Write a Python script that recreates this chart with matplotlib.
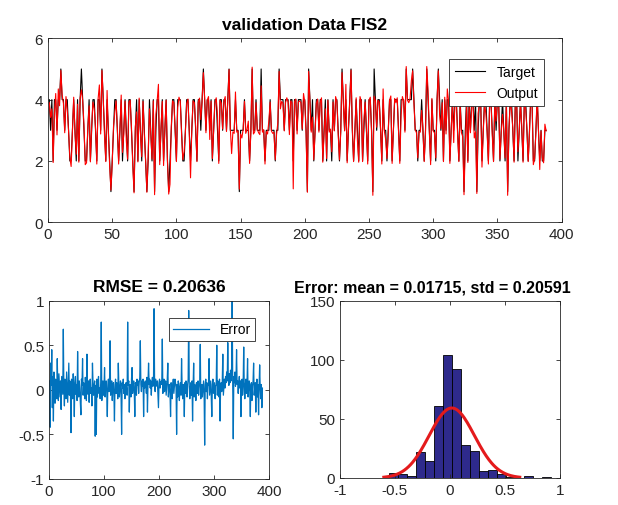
import matplotlib.pyplot as plt
import numpy as np

plt.rcParams["font.family"] = ["Liberation Sans", "DejaVu Sans"]

# target class values, one per validation sample
target = [
    4, 3, 4, 2, 4, 4, 3, 4, 4, 5,
    4, 4, 3, 4, 4, 3, 2, 2, 3, 4,
    3, 2, 4, 2, 4, 5, 4, 3, 2, 2,
    3, 4, 2, 3, 4, 4, 3, 2, 4, 4,
    3, 5, 4, 3, 2, 4, 3, 2, 1, 2,
    3, 4, 4, 3, 2, 3, 4, 2, 3, 4,
    3, 2, 4, 4, 3, 2, 1, 3, 4, 2,
    4, 3, 2, 4, 3, 2, 1, 2, 4, 3,
    2, 4, 1, 3, 4, 4, 2, 3, 4, 2,
    3, 4, 2, 1, 2, 3, 4, 4, 3, 2,
    4, 4, 4, 3, 2, 2, 3, 4, 4, 3,
    2, 3, 4, 4, 3, 2, 4, 4, 3, 4,
    5, 4, 3, 4, 4, 3, 4, 2, 3, 4,
    4, 3, 2, 4, 4, 3, 4, 4, 3, 4,
    5, 3, 3, 3, 3, 4, 3, 3, 1, 3,
    3, 3, 4, 3, 3, 3, 2, 3, 5, 3,
    3, 4, 3, 3, 3, 5, 3, 3, 2, 3,
    3, 3, 4, 3, 3, 3, 2, 3, 3, 5,
    4, 4, 4, 3, 4, 4, 4, 3, 4, 4,
    2, 4, 4, 3, 4, 4, 4, 3, 4, 4,
    3, 1, 5, 4, 3, 4, 2, 3, 4, 4,
    3, 4, 4, 2, 3, 4, 2, 4, 3, 3,
    2, 4, 3, 4, 4, 3, 2, 3, 5, 4,
    3, 4, 2, 3, 4, 5, 3, 2, 3, 4,
    3, 2, 4, 4, 2, 3, 4, 3, 2, 4,
    4, 3, 1, 5, 4, 3, 4, 4, 3, 2,
    4, 3, 3, 2, 3, 4, 4, 2, 3, 4,
    4, 4, 3, 2, 4, 4, 4, 3, 5, 4,
    4, 4, 4, 5, 4, 3, 3, 2, 3, 3,
    4, 3, 2, 3, 5, 4, 3, 2, 4, 3,
    3, 2, 4, 5, 4, 3, 4, 2, 4, 3,
    4, 4, 2, 3, 4, 3, 4, 4, 3, 2,
    4, 3, 3, 1, 3, 4, 2, 4, 3, 4,
    4, 3, 4, 1, 3, 4, 4, 2, 3, 4,
    4, 3, 2, 4, 4, 3, 2, 4, 3, 4,
    4, 2, 3, 4, 3, 2, 4, 1, 3, 4,
    4, 3, 2, 4, 4, 2, 3, 4, 3, 2,
    4, 4, 3, 2, 3, 4, 4, 2, 2, 3,
    4, 3, 2, 3, 2, 2, 3, 3,
]

# error = target - output
error = [
    0.10, -0.42, 0.30, 0.05, 0.45, -0.20, 0.15, -0.35, 0.20, 0.05,
    -0.15, 0.12, 0.08, -0.10, 0.35, 0.02, -0.12, 0.18, 0.05, -0.08,
    0.10, -0.22, 0.15, 0.04, -0.05, 0.68, 0.02, -0.18, 0.12, 0.06,
    -0.10, 0.20, 0.03, -0.14, 0.08, 0.30, -0.06, 0.10, -0.02, -0.48,
    0.12, 0.05, -0.10, 0.18, 0.02, -0.30, 0.08, 0.15, -0.05, 0.06,
    -0.12, 0.43, 0.04, -0.08, 0.10, 0.02, -0.15, -0.28, 0.12, 0.05,
    0.35, -0.06, 0.08, 0.02, -0.10, 0.14, 0.04, -0.12, 0.40, 0.03,
    -0.05, 0.10, -0.14, 0.06, 0.12, -0.04, 0.02, -0.18, 0.30, 0.08,
    -0.06, 0.04, 0.10, -0.52, 0.05, -0.50, 0.12, -0.08, 0.06, 0.15,
    -0.04, 0.02, -0.10, 0.08, 0.76, -0.12, 0.04, 0.10, -0.06, 0.02,
    0.25, -0.08, 0.05, 0.10, -0.04, -0.30, 0.06, 0.12, -0.02, 0.08,
    0.55, -0.06, 0.04, 0.10, -0.12, 0.02, 0.08, -0.05, -0.35, 0.06,
    0.12, -0.04, 0.08, 0.02, -0.10, 0.30, 0.05, -0.08, 0.04, 0.10,
    -0.06, -0.50, 0.08, 0.02, 0.12, -0.04, 0.06, -0.10, 0.04, 0.08,
    0.02, -0.06, 0.76, 0.05, 0.10, -0.25, 0.06, 0.02, -0.08, 0.12,
    0.25, -0.04, 0.06, 0.10, -0.02, -0.30, 0.08, 0.04, -0.06, 0.12,
    0.05, 0.10, -0.04, 0.08, 0.14, 0.55, 0.06, -0.02, 0.10, 0.04,
    0.12, -0.30, 0.08, 0.02, 0.10, 0.06, -0.04, 0.14, -0.25, 0.08,
    0.30, 0.06, 0.12, 0.02, 0.10, -0.06, 0.08, 0.14, 0.04, 0.10,
    0.91, 0.06, -0.02, 0.12, 0.08, 0.04, 0.10, -0.04, -0.20, 0.08,
    0.12, 0.02, 0.08, 0.10, 0.06, 0.57, -0.04, 0.08, 0.12, -0.02,
    0.06, 0.10, -0.06, 0.04, 0.12, 0.30, -0.08, 0.02, 0.06, -0.04,
    -0.30, 0.08, 0.02, -0.10, 0.06, 0.12, -0.04, 0.04, 0.12, 0.08,
    0.02, -0.50, 0.06, -0.08, 0.10, 0.04, -0.12, 0.02, 0.08, -0.06,
    0.35, 0.04, -0.10, 0.06, 0.02, -0.30, 0.08, -0.04, 0.10, 0.02,
    -0.08, 0.06, 0.12, 0.89, 0.04, -0.10, 0.02, 0.08, -0.06, 0.10,
    -0.35, 0.04, 0.30, -0.08, 0.06, 0.02, -0.12, 0.08, 0.04, -0.04,
    0.10, -0.06, 0.02, 0.08, 0.51, -0.10, 0.04, 0.06, -0.08, 0.02,
    0.10, -0.04, -0.62, 0.06, 0.12, -0.02, 0.08, -0.10, 0.04, 0.06,
    0.35, -0.06, 0.02, 0.10, -0.08, -0.30, 0.06, 0.12, -0.04, 0.02,
    0.08, -0.10, 0.04, 0.06, 0.50, -0.06, 0.10, 0.02, -0.08, 0.12,
    -0.35, 0.04, 0.08, -0.02, 0.10, 0.40, -0.06, 0.04, 0.12, 0.02,
    0.15, 0.08, 0.20, 0.10, 0.53, 0.12, 0.05, 0.18, 0.08, 0.22,
    0.10, 0.25, 1.05, 0.06, -0.55, 0.15, 0.08, 0.20, 0.04, 0.12,
    0.45, 0.06, 0.10, -0.04, 0.08, 0.15, 0.02, 0.10, -0.30, 0.06,
    0.12, -0.06, 0.08, 0.48, 0.02, -0.10, 0.06, 0.12, -0.04, 0.08,
    0.35, -0.08, 0.04, 0.10, -0.02, -0.30, 0.06, 0.08, -0.12, 0.04,
    0.10, 0.30, -0.06, 0.02, 0.08, -0.25, 0.04, 0.12, -0.08, 0.06,
    -0.28, 0.04, 0.28, 0.02, -0.10, 0.06, -0.20, 0.02,
]

# histogram
hist_lo, hist_hi = -0.555, 0.921
hist_counts = [4, 3, 2, 22, 14, 61, 104, 92, 28, 23, 6, 7, 3, 1, 0, 2, 0, 1]
err_mean = 0.01715
err_std = 0.20591
rmse = 0.20636

target = np.array(target, dtype=float)
error = np.array(error)
output = target - error
idx = np.arange(1, len(target) + 1)

fig = plt.figure(figsize=(6.18, 5.06), dpi=100)
txt = "#262626"

def style(ax):
    ax.tick_params(direction="in", top=True, right=True, labelsize=11,
                   colors=txt, length=3, width=0.6)
    for s in ax.spines.values():
        s.set_color(txt)
        s.set_linewidth(0.6)

ax1 = fig.add_axes([0.0777, 0.5587, 0.831, 0.3636])
ax1.plot(idx, target, color="k", lw=0.8, label="Target")
ax1.plot(idx, output, color="r", lw=0.8, label="Output")
ax1.set_xlim(0, 400)
ax1.set_ylim(0, 6)
ax1.set_xticks(np.arange(0, 401, 50))
ax1.set_yticks([0, 2, 4, 6])
ax1.set_title("validation Data FIS2", fontsize=12.5, fontweight="bold", pad=7)
leg = ax1.legend(loc="upper right", fontsize=10, fancybox=False, framealpha=1,
                 edgecolor=txt, handlelength=2.2, borderpad=0.45,
                 labelspacing=0.45, bbox_to_anchor=(0.98, 0.925))
leg.get_frame().set_linewidth(0.6)
style(ax1)

ax2 = fig.add_axes([0.0793, 0.0514, 0.356, 0.3524])
ax2.plot(idx, error, color="#0072BD", lw=0.9, label="Error")
ax2.set_xlim(0, 400)
ax2.set_ylim(-1, 1)
ax2.set_xticks([0, 100, 200, 300, 400])
ax2.set_yticks([-1, -0.5, 0, 0.5, 1])
ax2.set_yticklabels(["-1", "-0.5", "0", "0.5", "1"])
ax2.set_title("RMSE = %.5f" % rmse, fontsize=12.5, fontweight="bold", pad=7)
leg2 = ax2.legend(loc="upper right", fontsize=10, fancybox=False, framealpha=1,
                  edgecolor=txt, handlelength=2.6, borderpad=0.3,
                  bbox_to_anchor=(0.97, 0.94))
leg2.get_frame().set_linewidth(0.6)
style(ax2)

ax3 = fig.add_axes([0.550, 0.0534, 0.356, 0.35])
edges = np.linspace(hist_lo, hist_hi, len(hist_counts) + 1)
width = edges[1] - edges[0]
ax3.bar(edges[:-1], hist_counts, width=width, align="edge", color="#2E2A8C",
        edgecolor="k", linewidth=0.6)
xs = np.linspace(err_mean - 3 * err_std, err_mean + 3 * err_std, 200)
n = sum(hist_counts)
pdf = n * width / (err_std * np.sqrt(2 * np.pi)) * np.exp(-0.5 * ((xs - err_mean) / err_std) ** 2)
ax3.plot(xs, pdf, color="#E41A1C", lw=2.2)
ax3.set_xlim(-1, 1)
ax3.set_ylim(0, 150)
ax3.set_xticks([-1, -0.5, 0, 0.5, 1])
ax3.set_xticklabels(["-1", "-0.5", "0", "0.5", "1"])
ax3.set_yticks([0, 50, 100, 150])
ax3.set_title("Error: mean = %.5f, std = %.5f" % (err_mean, err_std),
              fontsize=11.5, fontweight="bold", pad=7, x=0.42)
style(ax3)

fig.savefig("out.png", dpi=100)
